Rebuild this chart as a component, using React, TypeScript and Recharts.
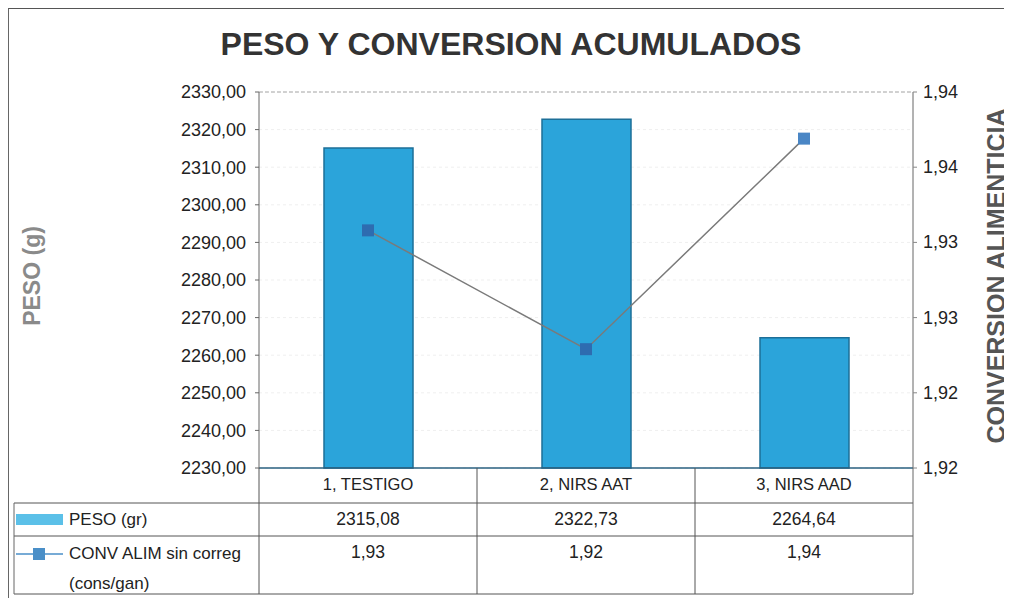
import React from "react";
import {
  ComposedChart,
  Bar,
  Line,
  XAxis,
  YAxis,
  CartesianGrid,
  ReferenceLine,
} from "recharts";

const categories = ["1, TESTIGO", "2, NIRS AAT", "3, NIRS AAD"];
const pesoValues = [2315.08, 2322.73, 2264.64];
const convValues = [1.9308, 1.9229, 1.9369];
const pesoTableLabels = ["2315,08", "2322,73", "2264,64"];
const convTableLabels = ["1,93", "1,92", "1,94"];
const leftTicks = [2230, 2240, 2250, 2260, 2270, 2280, 2290, 2300, 2310, 2320, 2330];
const rightTicks = [1.915, 1.92, 1.925, 1.93, 1.935, 1.94];
const rightTickLabels = ["1,92", "1,92", "1,93", "1,93", "1,94", "1,94"];

const data = categories.map((c, i) => ({
  name: c,
  peso: pesoValues[i],
  conv: convValues[i],
  pesoLabel: pesoTableLabels[i],
  convLabel: convTableLabels[i],
}));

const W = 1004;
const H = 590;
const PLOT_L = 250;
const PLOT_R = 904;
const PLOT_T = 83;
const PLOT_B = 459;
const FONT = "'Liberation Sans', Arial, sans-serif";

const fmtLeft = (v: number) => v.toFixed(2).replace(".", ",");

const XTick = (props: any) => {
  const { x, index, payload } = props;
  const d = data[index] || data[0];
  const y0 = PLOT_B;
  return (
    <g>
      <text x={x} y={y0 + 16} textAnchor="middle" dominantBaseline="central" fontSize={16.5} fill="#222" fontFamily={FONT}>
        {payload.value}
      </text>
      <text x={x} y={y0 + 51} textAnchor="middle" dominantBaseline="central" fontSize={17.5} fill="#222" fontFamily={FONT}>
        {d.pesoLabel}
      </text>
      <text x={x} y={y0 + 84} textAnchor="middle" dominantBaseline="central" fontSize={17.5} fill="#222" fontFamily={FONT}>
        {d.convLabel}
      </text>
    </g>
  );
};

const RightTick = (props: any) => {
  const { x, y, index } = props;
  return (
    <text x={x + 4} y={y} dominantBaseline="central" fontSize={18} fill="#222" fontFamily={FONT}>
      {rightTickLabels[index]}
    </text>
  );
};

const SquareDot = (props: any) => {
  const { cx, cy, index } = props;
  if (cx == null || cy == null) return null;
  return (
    <rect
      key={`dot-${index}`}
      x={cx - 6}
      y={cy - 6}
      width={12}
      height={12}
      fill={index === 2 ? "#4a86c5" : "#2e6cb0"}
      stroke="none"
    />
  );
};

export default function App() {
  const catW = (PLOT_R - PLOT_L) / categories.length;
  const colLines = categories.slice(1).map((_, i) => PLOT_L + catW * (i + 1));
  return (
    <div
      style={{
        position: "relative",
        width: W,
        height: H,
        background: "#fff",
        borderTop: "1.5px solid #555",
        borderLeft: "1.5px solid #666",
        boxSizing: "border-box",
        fontFamily: FONT,
      }}
    >
      <div
        style={{
          position: "absolute",
          left: 0,
          top: 17,
          width: W,
          textAlign: "center",
          fontSize: 32,
          fontWeight: "bold",
          color: "#333",
          fontFamily: FONT,
        }}
      >
        PESO Y CONVERSION ACUMULADOS
      </div>
      <ComposedChart
        width={W}
        height={H}
        data={data}
        margin={{ top: PLOT_T, right: W - PLOT_R - 60, bottom: 0, left: PLOT_L - 90 }}
        style={{ position: "absolute", left: 0, top: 0 }}
      >
        <CartesianGrid vertical={false} stroke="#efefef" strokeDasharray="3 3" yAxisId="left" />
        <XAxis
          dataKey="name"
          height={H - PLOT_B}
          axisLine={{ stroke: "#2a6080", strokeWidth: 1.5 }}
          tickLine={false}
          tick={<XTick />}
          interval={0}
        />
        <YAxis
          yAxisId="left"
          orientation="left"
          width={90}
          domain={[2230, 2330]}
          ticks={leftTicks}
          interval={0}
          tickFormatter={fmtLeft}
          axisLine={{ stroke: "#666" }}
          tickLine={{ stroke: "#666" }}
          tickSize={4}
          tickMargin={9}
          tick={{ fontSize: 18, fill: "#222", fontFamily: FONT }}
        />
        <YAxis
          yAxisId="right"
          orientation="right"
          width={60}
          domain={[1.915, 1.94]}
          ticks={rightTicks}
          interval={0}
          axisLine={{ stroke: "#666" }}
          tickLine={{ stroke: "#888" }}
          tickSize={4}
          tick={<RightTick />}
        />
        <ReferenceLine yAxisId="left" y={2330} stroke="#aaa" strokeDasharray="4 2" />
        <Bar
          yAxisId="left"
          dataKey="peso"
          barSize={89}
          fill="#2ba4da"
          stroke="#1d6f98"
          strokeWidth={1.5}
          isAnimationActive={false}
        />
        <Line
          yAxisId="right"
          dataKey="conv"
          stroke="#7a7a7a"
          strokeWidth={1.5}
          dot={<SquareDot />}
          activeDot={false}
          isAnimationActive={false}
        />
      </ComposedChart>
      <svg
        width={W}
        height={H}
        style={{ position: "absolute", left: 0, top: 0, pointerEvents: "none" }}
      >
        <line x1={5} x2={PLOT_R} y1={494} y2={494} stroke="#555" strokeWidth={1} />
        <line x1={5} x2={PLOT_R} y1={527} y2={527} stroke="#555" strokeWidth={1} />
        <line x1={5} x2={PLOT_R} y1={585} y2={585} stroke="#555" strokeWidth={1} />
        <line x1={5} x2={5} y1={494} y2={585} stroke="#666" strokeWidth={1} />
        <line x1={PLOT_L} x2={PLOT_L} y1={PLOT_B} y2={585} stroke="#555" strokeWidth={1} />
        {colLines.map((x, i) => (
          <line key={i} x1={x} x2={x} y1={PLOT_B} y2={585} stroke="#555" strokeWidth={1} />
        ))}
        <line x1={PLOT_R} x2={PLOT_R} y1={PLOT_B} y2={585} stroke="#666" strokeWidth={1} />
        <rect x={7} y={505} width={47} height={11} fill="#5bc0e8" />
        <text x={60} y={510} dominantBaseline="central" fontSize={17} fill="#222" fontFamily={FONT}>
          PESO (gr)
        </text>
        <line x1={7} x2={54} y1={545} y2={545} stroke="#4a8fc8" strokeWidth={1.5} />
        <rect x={24} y={539} width={12} height={12} fill="#4a8fc8" />
        <text x={60} y={544} dominantBaseline="central" fontSize={17} fill="#222" fontFamily={FONT}>
          CONV ALIM sin correg
        </text>
        <text x={60} y={574} dominantBaseline="central" fontSize={17} fill="#222" fontFamily={FONT}>
          (cons/gan)
        </text>
        <text
          transform="translate(23,267) rotate(-90)"
          textAnchor="middle"
          dominantBaseline="central"
          fontSize={23}
          fontWeight="bold"
          fill="#8a8a8a"
          fontFamily={FONT}
        >
          PESO (g)
        </text>
        <text
          transform="translate(987,267) rotate(-90)"
          textAnchor="middle"
          dominantBaseline="central"
          fontSize={25}
          fontWeight="bold"
          fill="#555"
          fontFamily={FONT}
        >
          CONVERSION ALIMENTICIA
        </text>
      </svg>
    </div>
  );
}
